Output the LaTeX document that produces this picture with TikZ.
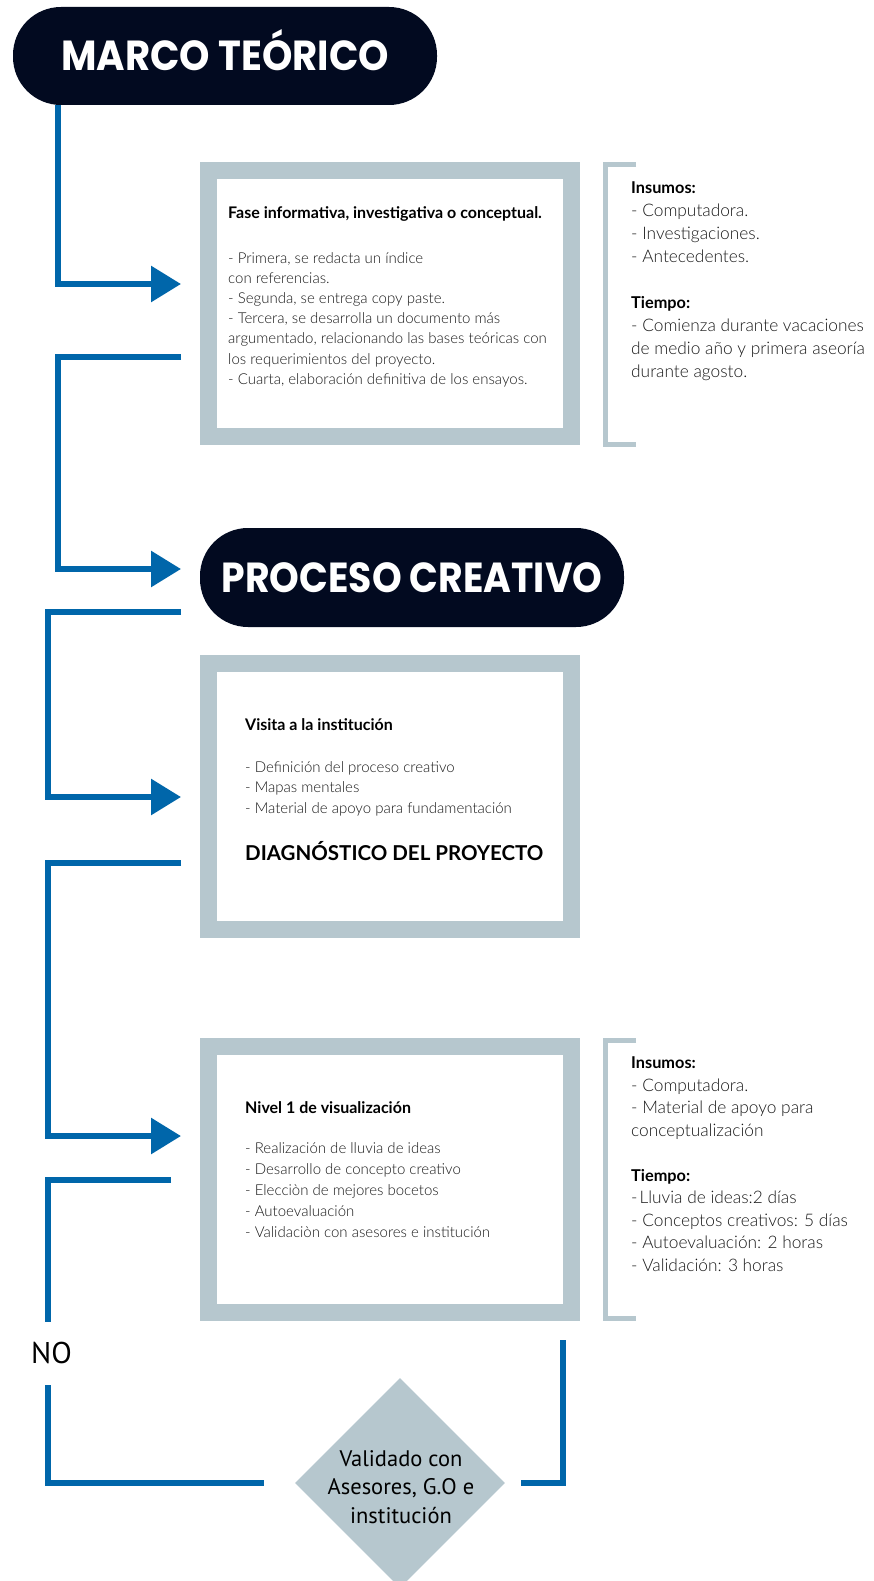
\documentclass[tikz,border=0pt]{standalone}
\usepackage{fontspec}
\usetikzlibrary{arrows.meta,shapes.geometric}
\IfFontExistsTF{Lato Light}{\newfontfamily\lightf{Lato Light}}{\newfontfamily\lightf{Lato}}
\newfontfamily\latof{Lato}
\newfontfamily\hdrf{Poppins}
\newfontfamily\myrf{PT Sans}
\definecolor{cblue}{RGB}{0,102,170}
\definecolor{cnavy}{RGB}{2,10,32}
\definecolor{cgray}{RGB}{182,199,206}
\definecolor{ctext}{RGB}{25,25,25}
\begin{document}
\begin{tikzpicture}[x=1pt,y=-1pt,
  conn/.style={draw=cblue,line width=6pt},
  arr/.style={-{Triangle[length=30pt,width=35pt]}},
  hdr/.style={fill=cnavy,rounded corners=48pt,inner sep=0pt,text=white,
    font=\hdrf\bfseries\fontsize{42}{42}\selectfont,text height=30pt,text depth=0pt},
  panel/.style={draw=cgray,line width=17pt,fill=white,inner sep=0pt},
  bracket/.style={draw=cgray,line width=5pt},
  ttl/.style={anchor=base west,inner sep=0pt,text=black,font=\latof\bfseries\fontsize{16}{19}\selectfont},
  body/.style={anchor=base west,inner sep=0pt,text=ctext,font=\lightf\fontsize{15}{18}\selectfont},
  side/.style={anchor=base west,inner sep=0pt,text=ctext,font=\lightf\fontsize{17.3}{20}\selectfont},
  sidettl/.style={anchor=base west,inner sep=0pt,text=black,font=\latof\bfseries\fontsize{16.3}{20}\selectfont},
]
\useasboundingbox (0,0) rectangle (873,1581);

% headers
\node[hdr,minimum width=424pt,minimum height=98pt] (h1) at (225,56) {\scalebox{0.92}[1]{MARCO TEÓRICO}};
\node[hdr,minimum width=424pt,minimum height=99pt] (h2) at (412,577.5) {\scalebox{0.9}[1]{PROCESO CREATIVO}};

% panels
\node[panel,minimum width=363pt,minimum height=266pt] (box1) at (390,303.5) {};
\node[panel,minimum width=363pt,minimum height=266pt] (box2) at (390,796.5) {};
\node[panel,minimum width=363pt,minimum height=266pt] (box3) at (390,1179.5) {};

% box 1 text
\node[ttl] (b1t) at (228,218.5) {Fase informativa, investigativa o conceptual.};
\foreach \txt [count=\i] in {{- Primera, se redacta un índice},{con referencias.},{- Segunda, se entrega copy paste.},{- Tercera, se desarrolla un documento más},{argumentado, relacionando las bases teóricas con},{los requerimientos del proyecto.},{- Cuarta, elaboración definitiva de los ensayos.}}
  \node[body] (b1l\i) at (228,{263+20.2*(\i-1)}) {\txt};

% box 2 text
\node[ttl] (b2t) at (245,730.5) {Visita a la institución};
\foreach \txt [count=\i] in {{- Definición del proceso creativo},{- Mapas mentales},{- Material de apoyo para fundamentación}}
  \node[body] (b2l\i) at (245,{772+20.5*(\i-1)}) {\txt};
\node[anchor=base west,inner sep=0pt,text=black,font=\latof\bfseries\fontsize{20.5}{24}\selectfont] (diag) at (245,860) {DIAGNÓSTICO DEL PROYECTO};

% box 3 text
\node[ttl] (b3t) at (245,1113.5) {Nivel 1 de visualización};
\foreach \txt [count=\i] in {{- Realización de lluvia de ideas},{- Desarrollo de concepto creativo},{- Elecciòn de mejores bocetos},{- Autoevaluación},{- Validaciòn con asesores e institución}}
  \node[body] (b3l\i) at (245,{1153+21*(\i-1)}) {\txt};

% side 1
\draw[bracket] (636,164.5) -- (605.5,164.5) -- (605.5,444.5) -- (636,444.5);
\node[sidettl] (s1t1) at (631,193.5) {Insumos:};
\foreach \txt [count=\i] in {{- Computadora.},{- Investigaciones.},{- Antecedentes.}}
  \node[side] (s1a\i) at (631,{193.5+23*\i}) {\txt};
\node[sidettl] (s1t2) at (631,{193.5+23*5}) {Tiempo:};
\foreach \txt [count=\i] in {{- Comienza durante vacaciones},{de medio año y primera aseoría},{durante agosto.}}
  \node[side] (s1b\i) at (631,{193.5+23*(5+\i)}) {\txt};

% side 2
\draw[bracket] (636,1040.5) -- (605.5,1040.5) -- (605.5,1318.5) -- (636,1318.5);
\node[sidettl] (s2t1) at (631,1068.5) {Insumos:};
\foreach \txt [count=\i] in {{- Computadora.},{- Material de apoyo para},{conceptualización}}
  \node[side] (s2a\i) at (631,{1068.5+22.5*\i}) {\txt};
\node[sidettl] (s2t2) at (631,{1068.5+22.5*5}) {Tiempo:};
\foreach \txt [count=\i] in {{-\kern2pt Lluvia de ideas:2 días},{- Conceptos creativos: 5 días},{- Autoevaluación: 2 horas},{- Validación: 3 horas}}
  \node[side] (s2b\i) at (631,{1068.5+22.5*(5+\i)}) {\txt};

% decision
\node[diamond,fill=cgray,minimum width=210pt,minimum height=210pt,inner sep=0pt] (dia) at (400,1483) {};
\node[align=center,inner sep=0pt,text=black,font=\myrf\fontsize{22.5}{28.5}\selectfont] (diat) at (401,1487) {Validado con\\Asesores, G.O e\\institución};
\node[anchor=base west,inner sep=0pt,text=black,font=\myrf\fontsize{30}{30}\selectfont] (no) at (31,1363) {NO};

% connectors
\coordinate (c1x) at (58,0);
\coordinate (c1e) at (181,284);
\draw[conn,arr] (h1.south -| c1x) |- (c1e);

\coordinate (c2s) at (181,357);
\coordinate (c2m) at (58,357);
\coordinate (c2e) at (181,569);
\draw[conn,arr] (c2s) -- (c2m) |- (c2e);

\coordinate (c3s) at (181,612);
\coordinate (c3m) at (48,612);
\coordinate (c3e) at (181,797);
\draw[conn,arr] (c3s) -- (c3m) |- (c3e);

\coordinate (c4s) at (181,863);
\coordinate (c4m) at (48,863);
\coordinate (c4e) at (181,1136);
\draw[conn,arr] (c4s) -- (c4m) |- (c4e);

\coordinate (c5s) at (171,1180);
\coordinate (c5e) at (48,1322);
\draw[conn] (c5s) -| (c5e);

\coordinate (c6s) at (48,1385);
\coordinate (c6e) at (264,1483);
\draw[conn] (c6s) |- (c6e);

\coordinate (c7s) at (521,1483);
\coordinate (c7e) at (563,1340);
\draw[conn] (c7s) -| (c7e);
\end{tikzpicture}
\end{document}
